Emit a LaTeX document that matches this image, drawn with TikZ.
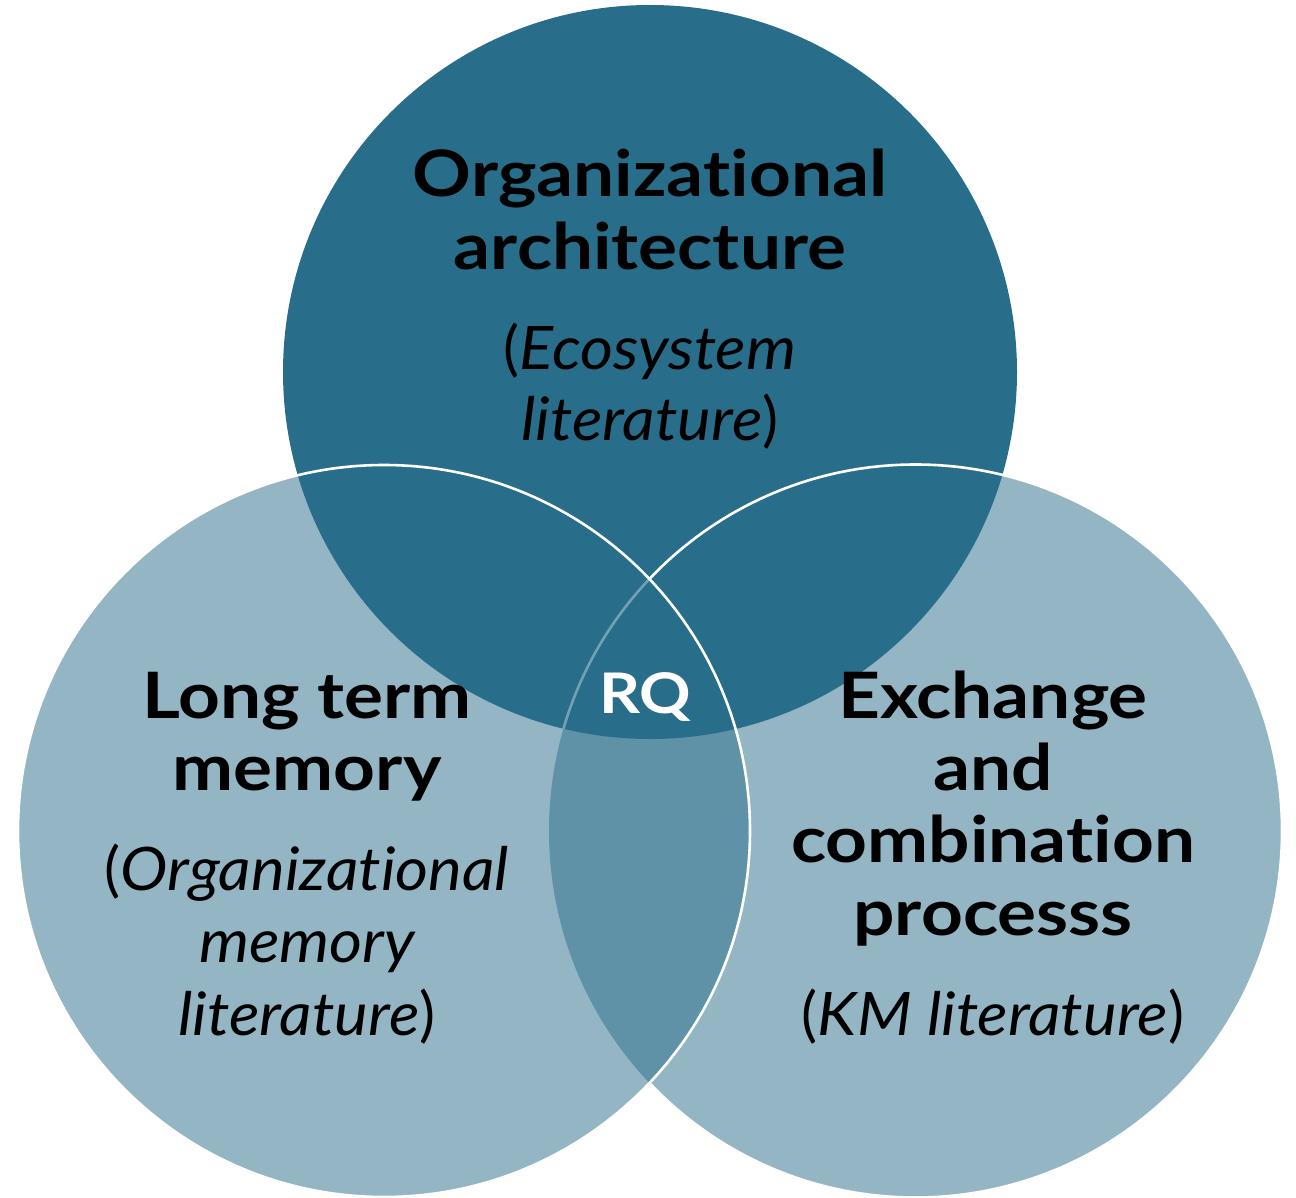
\documentclass[tikz,border=0pt]{standalone}
\usepackage{fontspec}
\setmainfont{Lato}[RawFeature=-liga,
  BoldFeatures={FakeStretch=1.14},
  ItalicFeatures={FakeStretch=1.06}]
\definecolor{topc}{RGB}{40,110,138}
\definecolor{lowc}{RGB}{147,181,196}
\definecolor{midc}{RGB}{95,146,166}
\begin{document}
\begin{tikzpicture}[x=1pt,y=-1pt,
  bold/.style={font=\fontsize{64}{73}\selectfont\bfseries, anchor=base, inner sep=0pt, text=black},
  ital/.style={font=\fontsize{60}{70}\selectfont\itshape, anchor=base, inner sep=0pt, text=black},
  ring/.style={draw=white, line width=2.6pt}]
\useasboundingbox (0,0) rectangle (1296,1198);
% circles
\fill[lowc] (384,831) circle (366);
\fill[lowc] (915.5,831) circle (366.5);
\begin{scope}
  \clip (384,831) circle (366);
  \fill[midc] (915.5,831) circle (366.5);
\end{scope}
\fill[topc] (650,372) circle (367);
% outlines
\begin{scope}[even odd rule]
  \clip (-10,-10) rectangle (1310,1210) (384,831) circle (366);
  \draw[ring] (915.5,831) circle (366.5);
\end{scope}
\begin{scope}
  \clip (650,372) circle (367);
  \clip (384,831) circle (366);
  \draw[ring, draw opacity=0.35] (915.5,831) circle (366.5);
\end{scope}
\draw[ring] (384,831) circle (366);
% top texts
\node[bold] (t1) at (650,197) {Organizational};
\node[bold] (t2) at (650,270) {architecture};
\node[ital] (t3) at (650,370) {\textup{(}Ecosystem};
\node[ital] (t4) at (650,440) {literature\textup{)}};
% RQ
\node[font=\fontsize{56}{60}\selectfont\bfseries, text=white, anchor=base, inner sep=0pt] (rq) at (645,713) {RQ};
% left texts
\node[bold] (l1) at (307,718) {Long term};
\node[bold] (l2) at (307,790) {memory};
\node[ital] (l3) at (307,890) {\textup{(}Organizational};
\node[ital] (l4) at (307,962) {memory};
\node[ital] (l5) at (307,1035) {literature\textup{)}};
% right texts
\node[bold] (r1) at (993,718) {Exchange};
\node[bold] (r2) at (993,790) {and};
\node[bold] (r3) at (993,862) {combination};
\node[bold] (r4) at (993,935) {processs};
\node[ital] (r5) at (993,1035) {\textup{(}KM literature\textup{)}};
\end{tikzpicture}
\end{document}
